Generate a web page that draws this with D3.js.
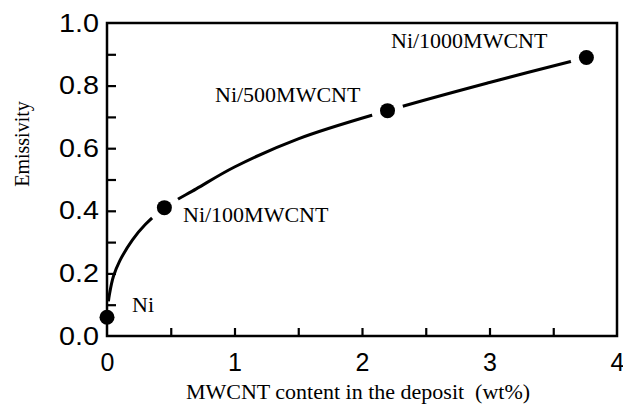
<!DOCTYPE html>
<html>
<head>
<meta charset="utf-8">
<script src="https://cdn.jsdelivr.net/npm/d3@7"></script>
<style>
  html, body { margin: 0; padding: 0; background: #fff; }
  svg { display: block; }
</style>
</head>
<body>
<svg id="chart" width="623" height="407"></svg>
<script>
// ---- data ----
const pointX = [0, 0.45, 2.2, 3.76];
const pointY = [0.06, 0.41, 0.72, 0.89];
const pointLabels = ["Ni", "Ni/100MWCNT", "Ni/500MWCNT", "Ni/1000MWCNT"];
// fitted curve
const curveX = [0.01, 0.02, 0.05, 0.1, 0.2, 0.3, 0.45, 0.7, 1.0, 1.5, 2.2, 3.0, 3.76];
const curveY = [0.107, 0.135, 0.19, 0.24, 0.307, 0.356, 0.41, 0.47, 0.54, 0.63, 0.72, 0.81, 0.89];
const xTicks = [0, 0.5, 1, 1.5, 2, 2.5, 3, 3.5, 4];
const yTicks = [0, 0.1, 0.2, 0.3, 0.4, 0.5, 0.6, 0.7, 0.8, 0.9, 1.0];
const xLabelTicks = [0, 1, 2, 3, 4];
const yLabelTicks = [0, 0.2, 0.4, 0.6, 0.8, 1.0];
const xTitle = "MWCNT content in the deposit  (wt%)";
const yTitle = "Emissivity";

// ---- layout ----
const L = 107, R = 617, T = 23, B = 336;
const svg = d3.select("#chart");
svg.append("rect").attr("width", 623).attr("height", 407).attr("fill", "#fff");

const x = d3.scaleLinear().domain([0, 4]).range([L, R]);
const y = d3.scaleLinear().domain([0, 1]).range([B, T]);

const sans = "'Liberation Sans', Arial, sans-serif";
const serif = "'Liberation Serif', 'Times New Roman', serif";

// curve
const line = d3.line().x(d => x(d[0])).y(d => y(d[1])).curve(d3.curveCatmullRom.alpha(0.5));
svg.append("path")
  .datum(curveX.map((v, i) => [v, curveY[i]]))
  .attr("d", line)
  .attr("fill", "none")
  .attr("stroke", "#000")
  .attr("stroke-width", 3);

// white halos to break the curve around markers
const pts = pointX.map((v, i) => ({x: v, y: pointY[i], label: pointLabels[i]}));
svg.selectAll(".halo").data(pts).join("circle")
  .attr("class", "halo")
  .attr("cx", d => x(d.x)).attr("cy", d => y(d.y))
  .attr("r", 16).attr("fill", "#fff");

// axes
const xAxis = d3.axisBottom(x).tickValues(xTicks).tickSize(-8).tickPadding(17)
  .tickFormat(d => xLabelTicks.includes(d) ? d3.format("d")(d) : "");
const yAxis = d3.axisLeft(y).tickValues(yTicks).tickSize(-9).tickPadding(7)
  .tickFormat(d => yLabelTicks.some(v => Math.abs(v - d) < 1e-9) ? d3.format(".1f")(d) : "");

const gx = svg.append("g").attr("transform", `translate(0,${B})`).call(xAxis);
const gy = svg.append("g").attr("transform", `translate(${L},0)`).call(yAxis);
[gx, gy].forEach(g => {
  g.select(".domain").remove();
  g.selectAll(".tick line").attr("stroke", "#000").attr("stroke-width", 2.2);
  g.selectAll(".tick text").attr("fill", "#000").style("font-family", sans).style("font-size", "25px");
});
gy.selectAll(".tick text").attr("transform", "scale(1.15,1)");
// remove ticks at frame ends
gx.selectAll(".tick line").filter(d => d === 0 || d === 4).remove();
gy.selectAll(".tick line").filter(d => d === 0 || d === 1).remove();

// frame
svg.append("rect")
  .attr("x", L).attr("y", T).attr("width", R - L).attr("height", B - T)
  .attr("fill", "none").attr("stroke", "#000").attr("stroke-width", 2.5);

// markers
svg.selectAll(".dot").data(pts).join("circle")
  .attr("class", "dot")
  .attr("cx", d => x(d.x)).attr("cy", d => y(d.y))
  .attr("r", 7.5).attr("fill", "#000");

// point labels
const labelPos = [[132, 312], [183, 222], [215, 102], [391, 48]];
svg.selectAll(".plabel").data(pts).join("text")
  .attr("class", "plabel")
  .attr("x", (d, i) => labelPos[i][0]).attr("y", (d, i) => labelPos[i][1])
  .style("font-family", serif).style("font-size", "22px").attr("fill", "#000")
  .text(d => d.label);

// axis titles
svg.append("text")
  .attr("x", 358).attr("y", 399).attr("text-anchor", "middle")
  .style("font-family", serif).style("font-size", "22px").style("white-space", "pre")
  .attr("fill", "#000")
  .text(xTitle);
svg.append("text")
  .attr("transform", "translate(29,144) rotate(-90)").attr("text-anchor", "middle")
  .style("font-family", serif).style("font-size", "20px").attr("fill", "#000")
  .text(yTitle);
</script>
</body>
</html>
